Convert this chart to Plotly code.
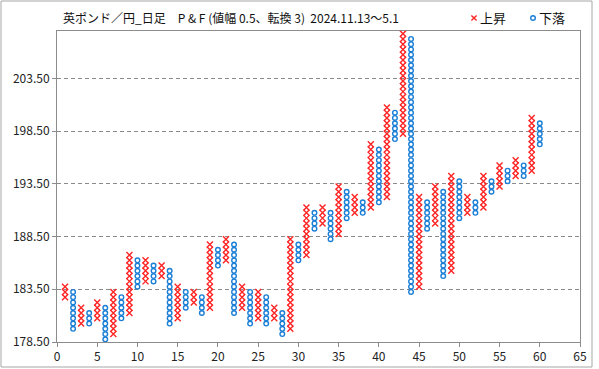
import numpy as np
import plotly.graph_objects as go

# Point & Figure columns (box size 0.5, reversal 3); each column spans [low, high] in price
col_dir = ['X', 'O'] * 30
col_low = [182.5, 179.5, 180.0, 180.0, 180.5, 178.5, 179.0, 180.5, 181.0, 183.5,
           184.0, 184.0, 184.5, 180.0, 180.5, 181.5, 182.0, 181.0, 181.5, 185.5,
           186.0, 181.0, 181.5, 180.0, 180.5, 180.0, 180.5, 179.0, 179.5, 186.0,
           186.5, 189.0, 189.5, 188.0, 188.5, 190.0, 190.5, 190.5, 191.0, 191.5,
           192.0, 197.5, 198.0, 183.0, 183.5, 189.0, 189.5, 184.5, 185.0, 190.0,
           190.5, 190.5, 191.0, 192.5, 193.0, 193.5, 194.0, 194.0, 194.5, 197.0]
col_high = [184.0, 183.5, 182.0, 181.5, 182.5, 182.0, 183.5, 183.0, 187.0, 186.5,
            186.5, 186.0, 186.0, 185.5, 184.0, 183.5, 183.5, 183.0, 188.0, 187.5,
            188.5, 188.0, 184.0, 183.5, 183.5, 183.0, 182.0, 181.5, 188.5, 188.0,
            191.5, 191.0, 191.5, 191.0, 193.5, 193.0, 192.5, 192.0, 197.5, 197.0,
            201.0, 200.5, 208.0, 207.5, 192.5, 192.0, 193.5, 193.0, 194.5, 194.0,
            192.5, 192.0, 194.5, 194.0, 195.5, 195.0, 196.0, 195.5, 200.0, 199.5]
box_size = 0.5

y_tick_vals = [178.5, 183.5, 188.5, 193.5, 198.5, 203.5]
y_tick_text = ["178.50", "183.50", "188.50", "193.50", "198.50", "203.50"]
x_tick_vals = list(range(0, 70, 5))

title_text = "英ポンド／円_日足　P & F (値幅 0.5、転換 3)  2024.11.13～5.1"
name_up = "上昇"
name_down = "下落"

xs_up, ys_up, xs_dn, ys_dn = [], [], [], []
for i, (d, lo, hi) in enumerate(zip(col_dir, col_low, col_high), start=1):
    n = int(round((hi - lo) / box_size))
    ys = [lo + box_size * (k + 0.5) for k in range(n)]
    if d == 'X':
        xs_up += [i] * n
        ys_up += ys
    else:
        xs_dn += [i] * n
        ys_dn += ys

FONT = "Noto Sans CJK JP, sans-serif"
W, H = 599, 369
L, R, T, B = 57, 19, 31, 27
PW, PH = W - L - R, H - T - B
RED, BLUE = "#FF2424", "#1B7FD6"


def px(xp):
    return (xp - L) / PW


def py(yp):
    return (H - B - yp) / PH


fig = go.Figure()
fig.add_trace(go.Scatter(
    x=xs_up, y=ys_up, mode="markers", name=name_up, showlegend=False,
    marker=dict(symbol="x-thin-open", size=6, color=RED,
                line=dict(color=RED, width=1.4)),
))
fig.add_trace(go.Scatter(
    x=xs_dn, y=ys_dn, mode="markers", name=name_down, showlegend=False,
    marker=dict(symbol="circle-open", size=4.6, color=BLUE,
                line=dict(color=BLUE, width=1.4)),
))

# legend glyphs (drawn as shapes in paper space)
lx1, lx2, ly, s = 474, 533, 18, 2.6
legend_shapes = [
    dict(type="path", xref="paper", yref="paper",
         path=f"M {px(lx1 - s)} {py(ly - s)} L {px(lx1 + s)} {py(ly + s)} "
              f"M {px(lx1 - s)} {py(ly + s)} L {px(lx1 + s)} {py(ly - s)}",
         line=dict(color=RED, width=1.4)),
    dict(type="circle", xref="paper", yref="paper",
         x0=px(lx2 - 2.3), x1=px(lx2 + 2.3), y0=py(ly + 2.3), y1=py(ly - 2.3),
         line=dict(color=BLUE, width=1.4)),
]

fig.update_layout(
    width=W, height=H,
    margin=dict(l=L, r=R, t=T, b=B, autoexpand=False),
    paper_bgcolor="white", plot_bgcolor="white",
    font=dict(family=FONT, size=12, color="#222222"),
    showlegend=False,
    xaxis=dict(range=[0, 65], tickvals=x_tick_vals, showgrid=False, zeroline=False,
               showline=True, linecolor="#8c8c8c", linewidth=1, mirror=True,
               ticks="outside", ticklen=4, tickcolor="#8c8c8c",
               tickfont=dict(family=FONT, size=12, color="#222222")),
    yaxis=dict(range=[178.5, 208.0], tickvals=y_tick_vals, ticktext=y_tick_text,
               showgrid=True, gridcolor="#8a8a8a", griddash="4px,3px", gridwidth=1,
               zeroline=False, showline=True, linecolor="#8c8c8c", linewidth=1,
               mirror=True, ticks="outside", ticklen=4, tickcolor="#8c8c8c",
               tickfont=dict(family=FONT, size=12, color="#222222")),
    annotations=[
        dict(text=title_text, xref="paper", yref="paper", x=px(61), y=py(18),
             xanchor="left", yanchor="middle", showarrow=False,
             font=dict(family=FONT, size=12, color="#111111")),
        dict(text=name_up, xref="paper", yref="paper", x=px(478), y=py(18),
             xanchor="left", yanchor="middle", showarrow=False,
             font=dict(family=FONT, size=13, color="#111111")),
        dict(text=name_down, xref="paper", yref="paper", x=px(537), y=py(18),
             xanchor="left", yanchor="middle", showarrow=False,
             font=dict(family=FONT, size=13, color="#111111")),
    ],
    shapes=[dict(type="rect", xref="paper", yref="paper",
                 x0=px(1), x1=px(592), y0=py(367), y1=py(1),
                 line=dict(color="#a6a6a6", width=1))] + legend_shapes,
)

fig.write_html("out.html", config={"displayModeBar": False},
               post_script="document.body.style.margin='0';document.body.style.overflow='hidden';")
